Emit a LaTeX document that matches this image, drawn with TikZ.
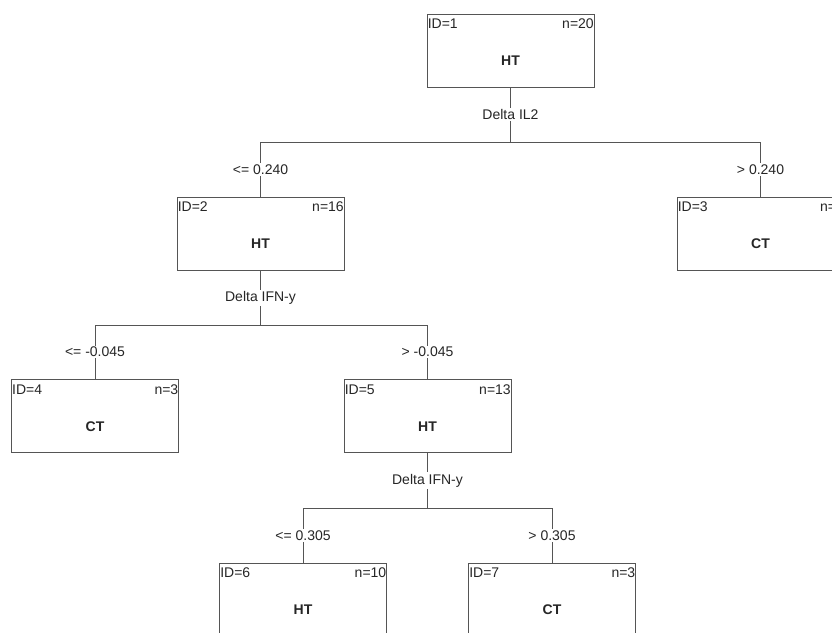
\documentclass[tikz,border=0pt]{standalone}
\usepackage{fontspec}
\setmainfont{Liberation Sans}
\begin{document}
\begin{tikzpicture}[x=1pt,y=-1pt,
  every node/.style={font=\fontsize{14}{16}\selectfont, text=black!85},
  tbox/.style={draw=linec, line width=0.9pt, minimum width=167pt, minimum height=73pt, inner sep=0pt},
  lbl/.style={fill=white, inner sep=1.5pt},
  edge/.style={draw=linec, line width=0.9pt}]
\definecolor{linec}{RGB}{85,85,85}
\useasboundingbox (0,0) rectangle (832,632);
\clip (0,0) rectangle (832,632);
% boxes
\node[tbox] (n1) at (510.5,50.5) {};
\node[tbox] (n2) at (260.5,233.5) {};
\node[tbox] (n3) at (760.5,233.5) {};
\node[tbox] (n4) at (95,416) {};
\node[tbox] (n5) at (427.5,416) {};
\node[tbox] (n6) at (303,599.5) {};
\node[tbox] (n7) at (552,599.5) {};
% box texts
\foreach \b/\i/\n/\c in {n1/1/20/HT, n2/2/16/HT, n3/3/4/CT, n4/4/3/CT, n5/5/13/HT, n6/6/10/HT, n7/7/3/CT}{
  \node[anchor=base west, inner sep=0pt] (\b id) at ([xshift=1pt,yshift=-15pt]\b.north west) {ID=\i};
  \node[anchor=base east, inner sep=0pt] (\b nn) at ([xshift=-0.5pt,yshift=-15pt]\b.north east) {n=\n};
  \node[anchor=base, inner sep=0pt, font=\fontsize{14}{16}\selectfont\bfseries] (\b cl) at ([yshift=-52pt]\b.north) {\c};
}
% split coordinates
\coordinate (h1) at (510.5,142);
\coordinate (h2) at (260.5,325);
\coordinate (h5) at (427.5,508);
% split 1
\draw[edge] (n1.south) -- node[lbl] (s1) {Delta IL2} (h1);
\draw[edge] (n2.north |- h1) -- (n3.north |- h1);
\draw[edge] (n2.north |- h1) -- node[lbl] (c2) {<= 0.240} (n2.north);
\draw[edge] (n3.north |- h1) -- node[lbl] (c3) {> 0.240} (n3.north);
% split 2
\draw[edge] (n2.south) -- node[lbl] (s2) {Delta IFN-y} (h2);
\draw[edge] (n4.north |- h2) -- (n5.north |- h2);
\draw[edge] (n4.north |- h2) -- node[lbl] (c4) {<= -0.045} (n4.north);
\draw[edge] (n5.north |- h2) -- node[lbl] (c5) {> -0.045} (n5.north);
% split 5
\draw[edge] (n5.south) -- node[lbl] (s5) {Delta IFN-y} (h5);
\draw[edge] (n6.north |- h5) -- (n7.north |- h5);
\draw[edge] (n6.north |- h5) -- node[lbl] (c6) {<= 0.305} (n6.north);
\draw[edge] (n7.north |- h5) -- node[lbl] (c7) {> 0.305} (n7.north);
\end{tikzpicture}
\end{document}
